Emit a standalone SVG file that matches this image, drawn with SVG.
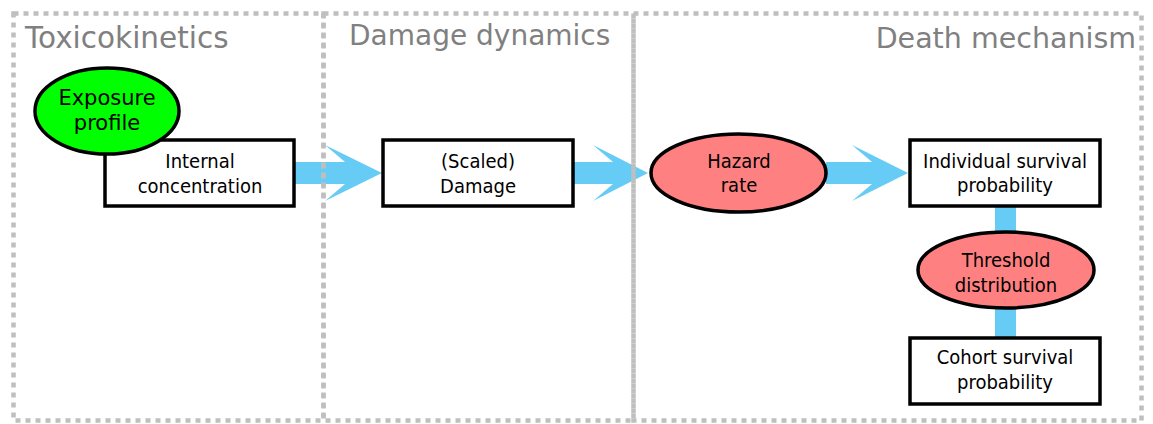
<svg xmlns="http://www.w3.org/2000/svg" width="1153" height="424" viewBox="0 0 1153 424">
<style>
.zone{fill:none;stroke:#bfbfbf;stroke-width:4.5;stroke-dasharray:5 5}
.title{font-family:"DejaVu Sans",sans-serif;font-size:28.5px;fill:#808080}
.box{fill:#ffffff;stroke:#000000;stroke-width:3.5}
.oval{stroke:#000000;stroke-width:3.5}
.lbl{font-family:"DejaVu Sans Condensed","DejaVu Sans",sans-serif;font-size:20px;fill:#000000;text-anchor:middle}
.lbl2{font-family:"DejaVu Sans",sans-serif;font-size:21px;fill:#000000;text-anchor:middle}
.conn{fill:#66ccf5;stroke:none}
</style>
<rect width="1153" height="424" fill="#ffffff"/>
<g id="connectors">
<polygon class="conn" points="294,162 345,162 325,145 382,173 325,201 345,184 294,184"/>
<polygon class="conn" points="573,162 613,162 593,145 648,173 593,201 613,184 573,184"/>
<polygon class="conn" points="826,162 872,162 852,145 908,173 852,201 872,184 826,184"/>
<rect class="conn" x="995" y="205" width="21" height="28"/>
<rect class="conn" x="995" y="306" width="21" height="34"/>
</g>
<g id="internal-concentration">
<rect class="box" x="105" y="140" width="189" height="66"/>
<text class="lbl" x="200" y="168">Internal</text>
<text class="lbl" x="200" y="193">concentration</text>
</g>
<g id="exposure-profile">
<ellipse class="oval" cx="107" cy="111" rx="72" ry="43" fill="#00ff00"/>
<text class="lbl2" x="107" y="105">Exposure</text>
<text class="lbl2" x="107" y="130">profile</text>
</g>
<g id="scaled-damage">
<rect class="box" x="383" y="140" width="190" height="66"/>
<text class="lbl" x="478" y="168">(Scaled)</text>
<text class="lbl" x="478" y="193">Damage</text>
</g>
<g id="hazard-rate">
<ellipse class="oval" cx="738.5" cy="173" rx="87.5" ry="39" fill="#ff8080"/>
<text class="lbl" x="739" y="168">Hazard</text>
<text class="lbl" x="739" y="192">rate</text>
</g>
<g id="individual-survival">
<rect class="box" x="910" y="140" width="190" height="66"/>
<text class="lbl" x="1005" y="168">Individual survival</text>
<text class="lbl" x="1005" y="192">probability</text>
</g>
<g id="threshold-distribution">
<ellipse class="oval" cx="1006" cy="270" rx="88" ry="38" fill="#ff8080"/>
<text class="lbl" x="1006" y="267">Threshold</text>
<text class="lbl" x="1006" y="292">distribution</text>
</g>
<g id="cohort-survival">
<rect class="box" x="910" y="338" width="190" height="66"/>
<text class="lbl" x="1005" y="364">Cohort survival</text>
<text class="lbl" x="1005" y="389">probability</text>
</g>
<g id="zones">
<rect class="zone" x="13.5" y="13.5" width="310" height="407"/>
<rect class="zone" x="323.5" y="13.5" width="310" height="407"/>
<rect class="zone" x="633.5" y="13.5" width="508" height="407"/>
<text class="title" x="25" y="48" style="font-size:29.5px">Toxicokinetics</text>
<text class="title" x="349" y="45" style="font-size:28px">Damage dynamics</text>
<text class="title" x="1136" y="48" text-anchor="end">Death mechanism</text>
</g>
</svg>
